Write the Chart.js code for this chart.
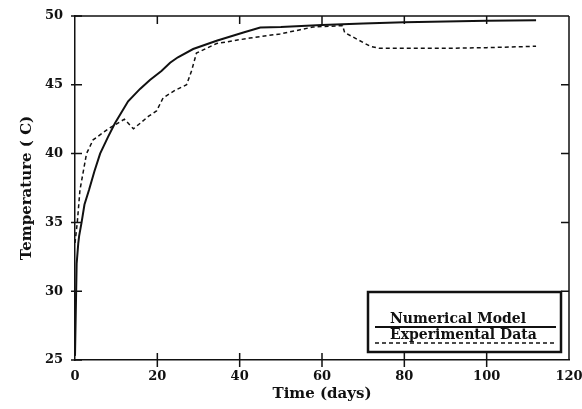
<!DOCTYPE html>
<html>
<head>
<meta charset="utf-8">
<script src="https://cdn.jsdelivr.net/npm/chart.js@4.4.0/dist/chart.umd.min.js"></script>
<style>
  html, body { margin: 0; padding: 0; background: #fff; }
  #wrap { width: 582px; height: 409px; }
</style>
</head>
<body>
<div id="wrap"><canvas id="myChart" width="582" height="409"></canvas></div>
<script>
// numerical model (solid line)
var modelDays  = [0, 0.4, 0.8, 1.0, 1.6, 2.3, 3.4, 4.7, 6.1, 8.0, 9.7, 12.9, 15.8, 18.2, 21.0, 23.1, 25.0, 28.7, 34.4, 40.9, 45.0, 50, 60, 70, 80, 90, 100, 112];
var modelTemps = [25.3, 32.0, 33.5, 34.0, 35.0, 36.3, 37.35, 38.7, 40.0, 41.2, 42.2, 43.8, 44.7, 45.35, 46.0, 46.6, 47.0, 47.6, 48.2, 48.8, 49.17, 49.2, 49.35, 49.45, 49.55, 49.6, 49.65, 49.7];

// experimental data (dashed line)
var expDays  = [0, 0.56, 1.2, 2.8, 4.4, 8.1, 12.0, 14.2, 17.8, 19.8, 21.4, 24.3, 27.1, 28.3, 29.5, 34.4, 42.5, 49.8, 54.7, 57.8, 65.0, 65.5, 71.7, 74, 80, 90, 100, 112];
var expTemps = [33.5, 35.0, 37.35, 40.0, 41.0, 41.8, 42.5, 41.8, 42.7, 43.1, 44.05, 44.6, 45.0, 46.0, 47.3, 48.0, 48.4, 48.7, 49.0, 49.2, 49.3, 48.8, 47.8, 47.65, 47.65, 47.65, 47.7, 47.8];

var xTicks = [0, 20, 40, 60, 80, 100, 120];
var yTicks = [25, 30, 35, 40, 45, 50];

var seriesNames = ['Numerical Model', 'Experimental Data'];

var ink = '#111';
var serif = '"DejaVu Serif", "Liberation Serif", serif';

function toPoints(xs, ys) {
    var pts = [];
    for (var i = 0; i < xs.length; i++) pts.push({x: xs[i], y: ys[i]});
    return pts;
}

// frame, crossing ticks and the boxed legend
var framePlugin = {
    id: 'frame',
    afterDraw: function(chart) {
        var c = chart.ctx;
        var a = chart.chartArea;
        var xs = chart.scales.x, ys = chart.scales.y;
        c.save();
        c.strokeStyle = ink;
        c.lineWidth = 1.5;
        c.beginPath();
        c.moveTo(a.left, a.top); c.lineTo(a.right, a.top);
        c.moveTo(a.right, a.top); c.lineTo(a.right, a.bottom);
        c.stroke();

        c.beginPath();
        xTicks.forEach(function(v) {
            if (v === xTicks[0] || v === xTicks[xTicks.length - 1]) return;
            var px = xs.getPixelForValue(v);
            c.moveTo(px, a.bottom - 7); c.lineTo(px, a.bottom + 7);
            c.moveTo(px, a.top); c.lineTo(px, a.top + 8);
        });
        yTicks.forEach(function(v) {
            var py = ys.getPixelForValue(v);
            c.moveTo(a.left - 4, py); c.lineTo(a.left + 7, py);
            if (v !== yTicks[0] && v !== yTicks[yTicks.length - 1]) {
                c.moveTo(a.right - 8, py); c.lineTo(a.right, py);
            }
        });
        c.stroke();

        // legend box in the lower right corner
        var bx = a.right - 201, by = a.bottom - 68, bw = 193, bh = 60;
        c.lineWidth = 2.5;
        c.strokeRect(bx, by, bw, bh);

        var ds = chart.data.datasets;
        c.font = 'bold 14px ' + serif;
        c.fillStyle = ink;
        c.textBaseline = 'alphabetic';
        var rows = [by + 31, by + 47];
        for (var i = 0; i < ds.length; i++) {
            c.fillText(ds[i].label, bx + 22, rows[i]);
            c.beginPath();
            c.lineWidth = ds[i].borderWidth;
            c.setLineDash(ds[i].borderDash || []);
            c.moveTo(bx + 7, rows[i] + 4);
            c.lineTo(bx + bw - 5, rows[i] + 4);
            c.stroke();
        }
        c.restore();
    }
};

var ctx = document.getElementById('myChart').getContext('2d');
var myChart = new Chart(ctx, {
    type: 'line',
    data: {
        datasets: [{
            label: seriesNames[0],
            data: toPoints(modelDays, modelTemps),
            borderColor: ink,
            borderWidth: 2,
            pointRadius: 0,
            fill: false,
            tension: 0
        }, {
            label: seriesNames[1],
            data: toPoints(expDays, expTemps),
            borderColor: ink,
            borderWidth: 1.5,
            borderDash: [4, 3],
            pointRadius: 0,
            fill: false,
            tension: 0
        }]
    },
    options: {
        responsive: false,
        animation: false,
        layout: { padding: { left: 0, top: 16, right: 13, bottom: 0 } },
        plugins: {
            legend: { display: false },
            tooltip: { enabled: false }
        },
        scales: {
            x: {
                type: 'linear',
                min: 0, max: 120,
                afterFit: function(s) { s.height = 49; s.paddingLeft = 0; s.paddingRight = 0; },
                afterBuildTicks: function(s) { s.ticks = xTicks.map(function(v) { return {value: v}; }); },
                grid: { display: false, drawTicks: false },
                border: { display: true, color: ink, width: 1.5 },
                ticks: { color: ink, padding: 9, maxRotation: 0, font: { family: serif, size: 13, weight: 'bold' } },
                title: { display: true, text: 'Time (days)', color: ink, padding: { top: 0, bottom: 6 }, font: { family: serif, size: 15, weight: 'bold' } }
            },
            y: {
                min: 25, max: 50,
                afterFit: function(s) { s.width = 75; s.paddingTop = 0; s.paddingBottom = 0; },
                afterBuildTicks: function(s) { s.ticks = yTicks.map(function(v) { return {value: v}; }); },
                grid: { display: false, drawTicks: false },
                border: { display: true, color: ink, width: 1.5 },
                ticks: { color: ink, padding: 12, font: { family: serif, size: 13, weight: 'bold' } },
                title: { display: true, text: 'Temperature ( C)', color: ink, padding: { top: 18, bottom: 0 }, font: { family: serif, size: 15, weight: 'bold' } }
            }
        }
    },
    plugins: [framePlugin]
});
</script>
</body>
</html>
